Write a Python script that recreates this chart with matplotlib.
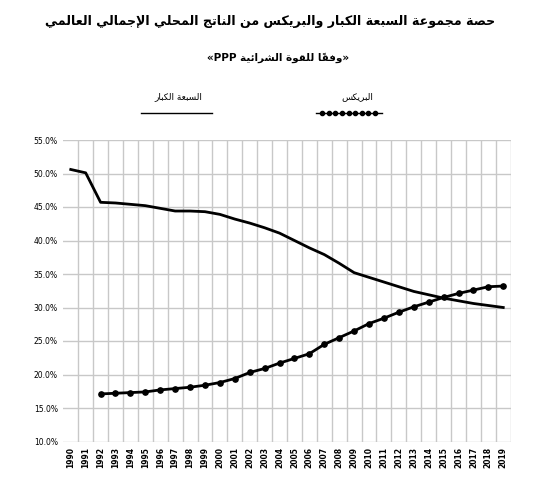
import matplotlib
matplotlib.use("Agg")
import matplotlib.pyplot as plt
from matplotlib.lines import Line2D
import numpy as np

# ---------------- data ----------------
years = list(range(1990, 2020))
g7_share = [50.6, 50.1, 45.7, 45.6, 45.4, 45.2, 44.8, 44.4, 44.4, 44.3,
            43.9, 43.2, 42.6, 41.9, 41.1, 40.0, 38.9, 37.9, 36.6, 35.2,
            34.5, 33.8, 33.1, 32.4, 31.9, 31.4, 31.0, 30.6, 30.3, 30.0]
brics_years = list(range(1992, 2020))
brics_share = [17.1, 17.2, 17.3, 17.4, 17.7, 17.9, 18.1, 18.4, 18.8, 19.4,
               20.3, 20.9, 21.7, 22.4, 23.1, 24.5, 25.5, 26.5, 27.6, 28.4,
               29.3, 30.1, 30.8, 31.5, 32.1, 32.6, 33.1, 33.2]
y_ticks = [10, 15, 20, 25, 30, 35, 40, 45, 50, 55]

title_txt = "حصة مجموعة السبعة الكبار والبريكس من الناتج المحلي الإجمالي العالمي"
subtitle_txt = "«وفقاً للقوة الشرائية PPP»"
g7_label = "السبعة الكبار"
brics_label = "البريكس"

# ---------------- minimal Arabic shaping + bidi ----------------
FORMS = {
    '\u0621': ('\uFE80', None, None, None),
    '\u0622': ('\uFE81', '\uFE82', None, None),
    '\u0623': ('\uFE83', '\uFE84', None, None),
    '\u0624': ('\uFE85', '\uFE86', None, None),
    '\u0625': ('\uFE87', '\uFE88', None, None),
    '\u0626': ('\uFE89', '\uFE8A', '\uFE8B', '\uFE8C'),
    '\u0627': ('\uFE8D', '\uFE8E', None, None),
    '\u0628': ('\uFE8F', '\uFE90', '\uFE91', '\uFE92'),
    '\u0629': ('\uFE93', '\uFE94', None, None),
    '\u062A': ('\uFE95', '\uFE96', '\uFE97', '\uFE98'),
    '\u062B': ('\uFE99', '\uFE9A', '\uFE9B', '\uFE9C'),
    '\u062C': ('\uFE9D', '\uFE9E', '\uFE9F', '\uFEA0'),
    '\u062D': ('\uFEA1', '\uFEA2', '\uFEA3', '\uFEA4'),
    '\u062E': ('\uFEA5', '\uFEA6', '\uFEA7', '\uFEA8'),
    '\u062F': ('\uFEA9', '\uFEAA', None, None),
    '\u0630': ('\uFEAB', '\uFEAC', None, None),
    '\u0631': ('\uFEAD', '\uFEAE', None, None),
    '\u0632': ('\uFEAF', '\uFEB0', None, None),
    '\u0633': ('\uFEB1', '\uFEB2', '\uFEB3', '\uFEB4'),
    '\u0634': ('\uFEB5', '\uFEB6', '\uFEB7', '\uFEB8'),
    '\u0635': ('\uFEB9', '\uFEBA', '\uFEBB', '\uFEBC'),
    '\u0636': ('\uFEBD', '\uFEBE', '\uFEBF', '\uFEC0'),
    '\u0637': ('\uFEC1', '\uFEC2', '\uFEC3', '\uFEC4'),
    '\u0638': ('\uFEC5', '\uFEC6', '\uFEC7', '\uFEC8'),
    '\u0639': ('\uFEC9', '\uFECA', '\uFECB', '\uFECC'),
    '\u063A': ('\uFECD', '\uFECE', '\uFECF', '\uFED0'),
    '\u0641': ('\uFED1', '\uFED2', '\uFED3', '\uFED4'),
    '\u0642': ('\uFED5', '\uFED6', '\uFED7', '\uFED8'),
    '\u0643': ('\uFED9', '\uFEDA', '\uFEDB', '\uFEDC'),
    '\u0644': ('\uFEDD', '\uFEDE', '\uFEDF', '\uFEE0'),
    '\u0645': ('\uFEE1', '\uFEE2', '\uFEE3', '\uFEE4'),
    '\u0646': ('\uFEE5', '\uFEE6', '\uFEE7', '\uFEE8'),
    '\u0647': ('\uFEE9', '\uFEEA', '\uFEEB', '\uFEEC'),
    '\u0648': ('\uFEED', '\uFEEE', None, None),
    '\u0649': ('\uFEEF', '\uFEF0', None, None),
    '\u064A': ('\uFEF1', '\uFEF2', '\uFEF3', '\uFEF4'),
}
LAM_ALEF = {'\u0622': ('\uFEF5', '\uFEF6'), '\u0623': ('\uFEF7', '\uFEF8'),
            '\u0625': ('\uFEF9', '\uFEFA'), '\u0627': ('\uFEFB', '\uFEFC')}


def is_mark(c):
    return '\u064B' <= c <= '\u065F' or c == '\u0670'


def dual(c):
    return c in FORMS and FORMS[c][2] is not None


def shape_arabic(text):
    chars = list(text)
    n = len(chars)
    out = []
    i = 0

    def prev_letter(k):
        k -= 1
        while k >= 0 and is_mark(chars[k]):
            k -= 1
        return chars[k] if k >= 0 else None

    def next_idx(k):
        k += 1
        while k < n and is_mark(chars[k]):
            k += 1
        return k if k < n else None

    while i < n:
        c = chars[i]
        if c not in FORMS:
            out.append(c)
            i += 1
            continue
        p = prev_letter(i)
        join_prev = p is not None and dual(p)
        j = next_idx(i)
        nxt = chars[j] if j is not None else None
        if c == '\u0644' and nxt in LAM_ALEF:
            out.append(LAM_ALEF[nxt][1 if join_prev else 0])
            out.extend(chars[i + 1:j])
            i = j + 1
            continue
        join_next = dual(c) and nxt is not None and nxt in FORMS
        iso, fin, ini, med = FORMS[c]
        if join_prev and join_next:
            out.append(med)
        elif join_prev:
            out.append(fin or iso)
        elif join_next:
            out.append(ini)
        else:
            out.append(iso)
        i += 1
    return ''.join(out)


MIRROR = {'«': '»', '»': '«', '(': ')', ')': '('}


def visual(text):
    s = shape_arabic(text)
    clusters = []
    for ch in s:
        if is_mark(ch) and clusters:
            clusters[-1] += ch
        else:
            clusters.append(ch)
    runs = []
    for cl in clusters:
        ltr = cl[0].isascii() and cl[0].isalnum()
        if runs and runs[-1][0] == ltr:
            runs[-1][1].append(cl)
        else:
            runs.append([ltr, [cl]])
    res = []
    for ltr, cls in reversed(runs):
        if ltr:
            res.append(''.join(cls))
        else:
            res.append(''.join(MIRROR.get(c, c) for c in reversed(cls)))
    return ''.join(res)


# ---------------- figure ----------------
plt.rcParams['font.family'] = ['DejaVu Sans']
fig = plt.figure(figsize=(5.39, 4.80), dpi=100)
ax = fig.add_axes([63.3 / 539, 1 - 441.5 / 480, (510.7 - 63.3) / 539, (441.5 - 140) / 480])

xi = np.arange(len(years))
bx = np.array([years.index(y) for y in brics_years])

ax.set_xlim(-0.5, len(years) - 0.5)
ax.set_ylim(10, 55)
for yv in y_ticks:
    ax.axhline(yv, color='#c8c8c8', lw=1.0, zorder=1)
for k in range(len(years)):
    ax.axvline(k + 0.5, color='#c8c8c8', lw=1.0, zorder=1)

ax.plot(xi, g7_share, color='black', lw=2.0, zorder=3)
ax.plot(bx, brics_share, color='black', lw=2.0, marker='o', markersize=3.8, zorder=3)

for sp in ax.spines.values():
    sp.set_visible(False)
ax.set_yticks(y_ticks)
ax.set_yticklabels([f"{v:.1f}%" for v in y_ticks], fontsize=5.5)
ax.set_xticks(xi)
ax.set_xticklabels([str(y) for y in years], rotation=90, fontsize=5.5, fontweight='bold')
ax.tick_params(length=0, pad=4)

# titles
fig.text(270 / 539, 1 - 22 / 480, visual(title_txt), ha='center', va='center',
         fontsize=9.1, fontweight='bold')
fig.text(278 / 539, 1 - 58 / 480, visual(subtitle_txt), ha='center', va='center',
         fontsize=7.5, fontweight='bold')

# legend
fig.text(178 / 539, 1 - 97 / 480, visual(g7_label), ha='center', va='center', fontsize=6.5)
fig.text(357 / 539, 1 - 97 / 480, visual(brics_label), ha='center', va='center', fontsize=6.5)
fig.add_artist(Line2D([141 / 539, 212 / 539], [1 - 113 / 480] * 2, color='black', lw=1.0,
                      transform=fig.transFigure))
lx = np.linspace(322 / 539, 375 / 539, 9)
fig.add_artist(Line2D([316 / 539, 382 / 539], [1 - 113 / 480] * 2, color='black', lw=1.0,
                      transform=fig.transFigure))
fig.add_artist(Line2D(lx, [1 - 113 / 480] * len(lx), color='black', lw=0, marker='o',
                      markersize=3.0, transform=fig.transFigure))

fig.savefig("out.png", dpi=100)
